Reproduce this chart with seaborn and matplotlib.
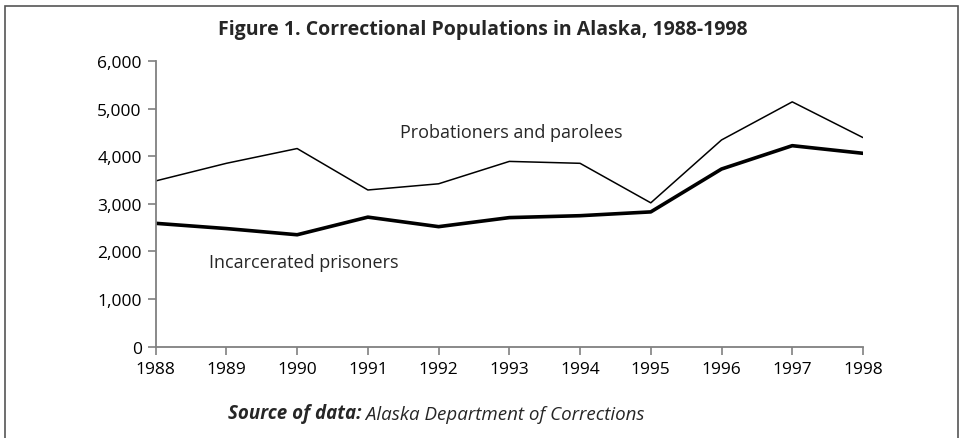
import pandas as pd
import seaborn as sns
import matplotlib.pyplot as plt
from matplotlib.patches import Rectangle
from matplotlib.ticker import FuncFormatter

# Values
years = [1988, 1989, 1990, 1991, 1992, 1993, 1994, 1995, 1996, 1997, 1998]
probation_parole = [3480, 3850, 4160, 3290, 3420, 3890, 3850, 3020, 4340, 5140, 4390]
incarcerated = [2590, 2480, 2350, 2720, 2520, 2710, 2750, 2830, 3730, 4220, 4060]
y_ticks = [0, 1000, 2000, 3000, 4000, 5000, 6000]

sns.set_theme(style='ticks')
plt.rcParams['font.family'] = ['Open Sans', 'DejaVu Sans']

df = pd.DataFrame({'year': years, 'probation': probation_parole, 'prison': incarcerated})

fig = plt.figure(figsize=(9.61, 4.39), dpi=100)
ax = fig.add_axes([0.162, 0.208, 0.736, 0.651])

sns.lineplot(data=df, x='year', y='probation', color='black', linewidth=1.1, ax=ax)
sns.lineplot(data=df, x='year', y='prison', color='black', linewidth=2.6, ax=ax)

ax.set_xlim(1988, 1998)
ax.set_ylim(0, 6000)
ax.set_xticks(years)
ax.set_yticks(y_ticks)
ax.yaxis.set_major_formatter(FuncFormatter(lambda v, p: f'{int(v):,}'))
ax.set_xlabel('')
ax.set_ylabel('')
ax.tick_params(axis='both', labelsize=12.5, color='#808080', length=6, width=1.2,
               labelcolor='black', pad=4)
for side in ['top', 'right']:
    ax.spines[side].set_visible(False)
for side in ['left', 'bottom']:
    ax.spines[side].set_color('#808080')
    ax.spines[side].set_linewidth(1.3)

# Series labels
ax.text(1991.46, 4500, 'Probationers and parolees', fontsize=13, va='center', ha='left')
ax.text(1988.75, 1780, 'Incarcerated prisoners', fontsize=13, va='center', ha='left')

# Title and source line
fig.text(0.502, 0.932, 'Figure 1. Correctional Populations in Alaska, 1988-1998',
         ha='center', va='center', fontsize=14, fontweight='bold')
t1 = fig.text(0.237, 0.058, 'Source of data:', fontsize=13.5, fontweight='bold',
              style='italic', ha='left', va='center')
ax.annotate(' Alaska Department of Corrections', xy=(1, 0), xycoords=t1,
            fontsize=13.5, style='italic', ha='left', va='bottom',
            annotation_clip=False)

# Frame around figure
fig.patches.append(Rectangle((5 / 961, -0.05), 953 / 961, 1 - 7 / 439 + 0.05,
                             transform=fig.transFigure, fill=False,
                             edgecolor='#555555', linewidth=1.2))

fig.savefig('out.png', dpi=100)
